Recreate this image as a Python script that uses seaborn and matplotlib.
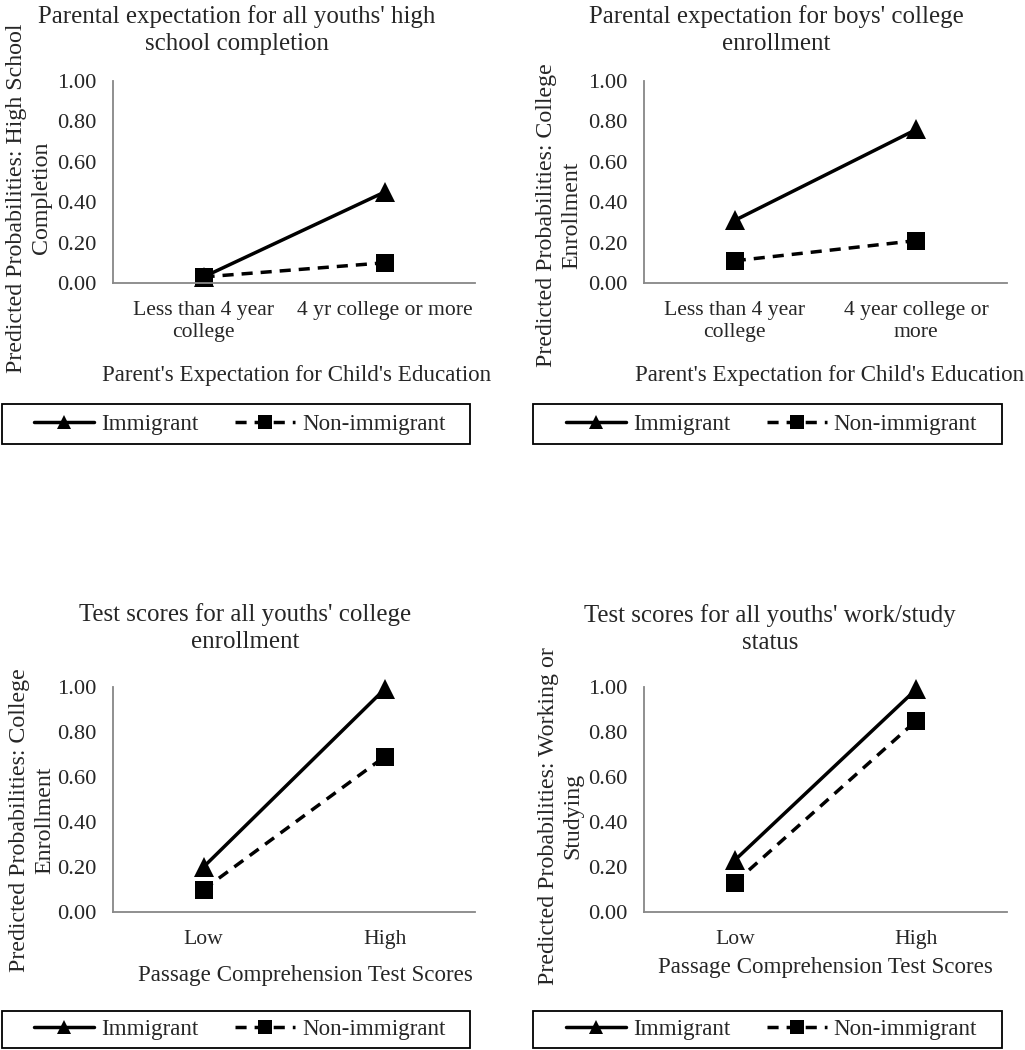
import matplotlib
matplotlib.use("Agg")
import matplotlib.pyplot as plt
from matplotlib.ticker import FixedLocator
from matplotlib.patches import Rectangle
import seaborn as sns
import pandas as pd

# ---- data ----
groups = ["Immigrant", "Non-immigrant"]
cats_p1 = ["Less than 4 year\ncollege", "4 yr college or more"]
cats_p2 = ["Less than 4 year\ncollege", "4 year college or\nmore"]
cats_test = ["Low", "High"]

p1_imm = [0.03, 0.45]
p1_non = [0.03, 0.10]
p2_imm = [0.31, 0.76]
p2_non = [0.11, 0.21]
p3_imm = [0.20, 0.99]
p3_non = [0.10, 0.69]
p4_imm = [0.23, 0.99]
p4_non = [0.13, 0.85]

titles = ["Parental expectation for all youths' high\nschool completion",
          "Parental expectation for boys' college\nenrollment",
          "Test scores for all youths' college\nenrollment",
          "Test scores for all youths' work/study\nstatus"]
ylabels = ["Predicted Probabilities: High School\nCompletion",
           "Predicted Probabilities: College\nEnrollment",
           "Predicted Probabilities: College\nEnrollment",
           "Predicted Probabilities: Working or\nStudying"]
xlabels = ["Parent's Expectation for Child's Education",
           "Parent's Expectation for Child's Education",
           "Passage Comprehension Test Scores",
           "Passage Comprehension Test Scores"]
yticks = [0.0, 0.2, 0.4, 0.6, 0.8, 1.0]

sns.set_theme(style="white")
plt.rcParams["font.family"] = ["Liberation Serif", "DejaVu Serif"]

W, H = 1025, 1050
fig = plt.figure(figsize=(W / 100, H / 100), dpi=100)
fig.patch.set_facecolor("white")

AX_GRAY = "#878787"
FS_TITLE = 17.9
FS_YLAB = 17.2
FS_XLAB = 16.6
FS_YTICK = 16.2
FS_XTICK = 15.6
FS_LEG = 16.6

def fx(px):
    return px / W

def fy(py):
    return 1 - py / H

# panel geometry in pixels: (left, right, y_top(=1.0), y_bottom(=0))
panels = [
    (113, 475, 81, 283),
    (644, 1007, 81, 283),
    (113, 475, 687, 912),
    (644, 1007, 687, 912),
]
title_pos = [(237, 30), (776, 30), (245, 628), (770, 629)]
ylabel_pos = [(29, 198), (559, 215), (32, 820), (561, 816)]
xlabel_pos = [(297, 375), (830, 375), (305, 975), (825, 968)]
legend_box = [(2, 470, 404, 444), (533, 1002, 404, 444),
              (2, 470, 1011, 1048), (533, 1002, 1011, 1048)]

datasets = [
    (cats_p1, p1_imm, p1_non),
    (cats_p2, p2_imm, p2_non),
    (cats_test, p3_imm, p3_non),
    (cats_test, p4_imm, p4_non),
]

for i, ((cats, imm, non), (l, r, t, b)) in enumerate(zip(datasets, panels)):
    ax = fig.add_axes([fx(l), fy(b), fx(r - l), (b - t) / H])
    df = pd.DataFrame({
        "cat": list(cats) + list(cats),
        "val": list(imm) + list(non),
        "group": [groups[0]] * len(cats) + [groups[1]] * len(cats),
    })
    df["x"] = [cats.index(c) for c in df["cat"]]
    sns.lineplot(data=df, x="x", y="val", hue="group", style="group",
                 palette={groups[0]: "black", groups[1]: "black"},
                 markers={groups[0]: "^", groups[1]: "s"},
                 dashes={groups[0]: "", groups[1]: (3.2, 2.3)},
                 linewidth=2.5, markersize=15, markeredgewidth=0,
                 ax=ax, legend=True, sort=False)
    for ln in ax.get_lines():
        if ln.get_marker() == "s":
            ln.set_markersize(13)
    handles, labels = ax.get_legend_handles_labels()
    ax.get_legend().remove()

    ax.set_xlim(-0.5, len(cats) - 0.5)
    ax.set_ylim(0, 1.0)
    ax.set_yticks(yticks)
    ax.set_yticklabels([f"{v:.2f}" for v in yticks], fontsize=FS_YTICK)
    ax.set_xticks(range(len(cats)))
    ax.set_xticklabels(cats, fontsize=FS_XTICK, linespacing=1.2)
    ax.xaxis.set_minor_locator(FixedLocator([k - 0.5 for k in range(len(cats) + 1)]))
    ax.tick_params(axis="x", which="major", length=0, pad=13)
    ax.tick_params(axis="x", which="minor", length=6, width=1.2, color=AX_GRAY, direction="out")
    ax.tick_params(axis="y", which="major", length=6, width=1.2, color=AX_GRAY, direction="out", pad=6)
    ax.set_xlabel("")
    ax.set_ylabel("")
    for s in ["top", "right"]:
        ax.spines[s].set_visible(False)
    for s in ["left", "bottom"]:
        ax.spines[s].set_color(AX_GRAY)
        ax.spines[s].set_linewidth(1.3)
    ax.set_facecolor("none")
    for ln in ax.get_lines():
        ln.set_clip_on(False)

    tx, ty = title_pos[i]
    fig.text(fx(tx), fy(ty), titles[i], ha="center", va="center",
             fontsize=FS_TITLE, linespacing=1.25, multialignment="center")
    yx, yy = ylabel_pos[i]
    fig.text(fx(yx), fy(yy), ylabels[i], ha="center", va="center",
             rotation=90, fontsize=FS_YLAB, linespacing=1.22, multialignment="center")
    xx, xy = xlabel_pos[i]
    fig.text(fx(xx), fy(xy), xlabels[i], ha="center", va="center", fontsize=FS_XLAB)

    lx0, lx1, ly0, ly1 = legend_box[i]
    leg = ax.legend(handles, labels, loc="center",
                    bbox_to_anchor=(fx(lx0 + 4), fy(ly1), fx(lx1 - lx0), (ly1 - ly0) / H),
                    bbox_transform=fig.transFigure, ncol=2,
                    fontsize=FS_LEG, frameon=False,
                    handlelength=2.6, handletextpad=0.3, borderpad=0.35,
                    columnspacing=1.6, borderaxespad=0)
    for h in leg.legend_handles:
        h.set_markersize(10)
    fig.patches.append(Rectangle((fx(lx0), fy(ly1)), fx(lx1 - lx0), (ly1 - ly0) / H,
                                 transform=fig.transFigure, fill=False,
                                 edgecolor="black", linewidth=1.3))

fig.savefig("out.png", dpi=100, facecolor="white")
